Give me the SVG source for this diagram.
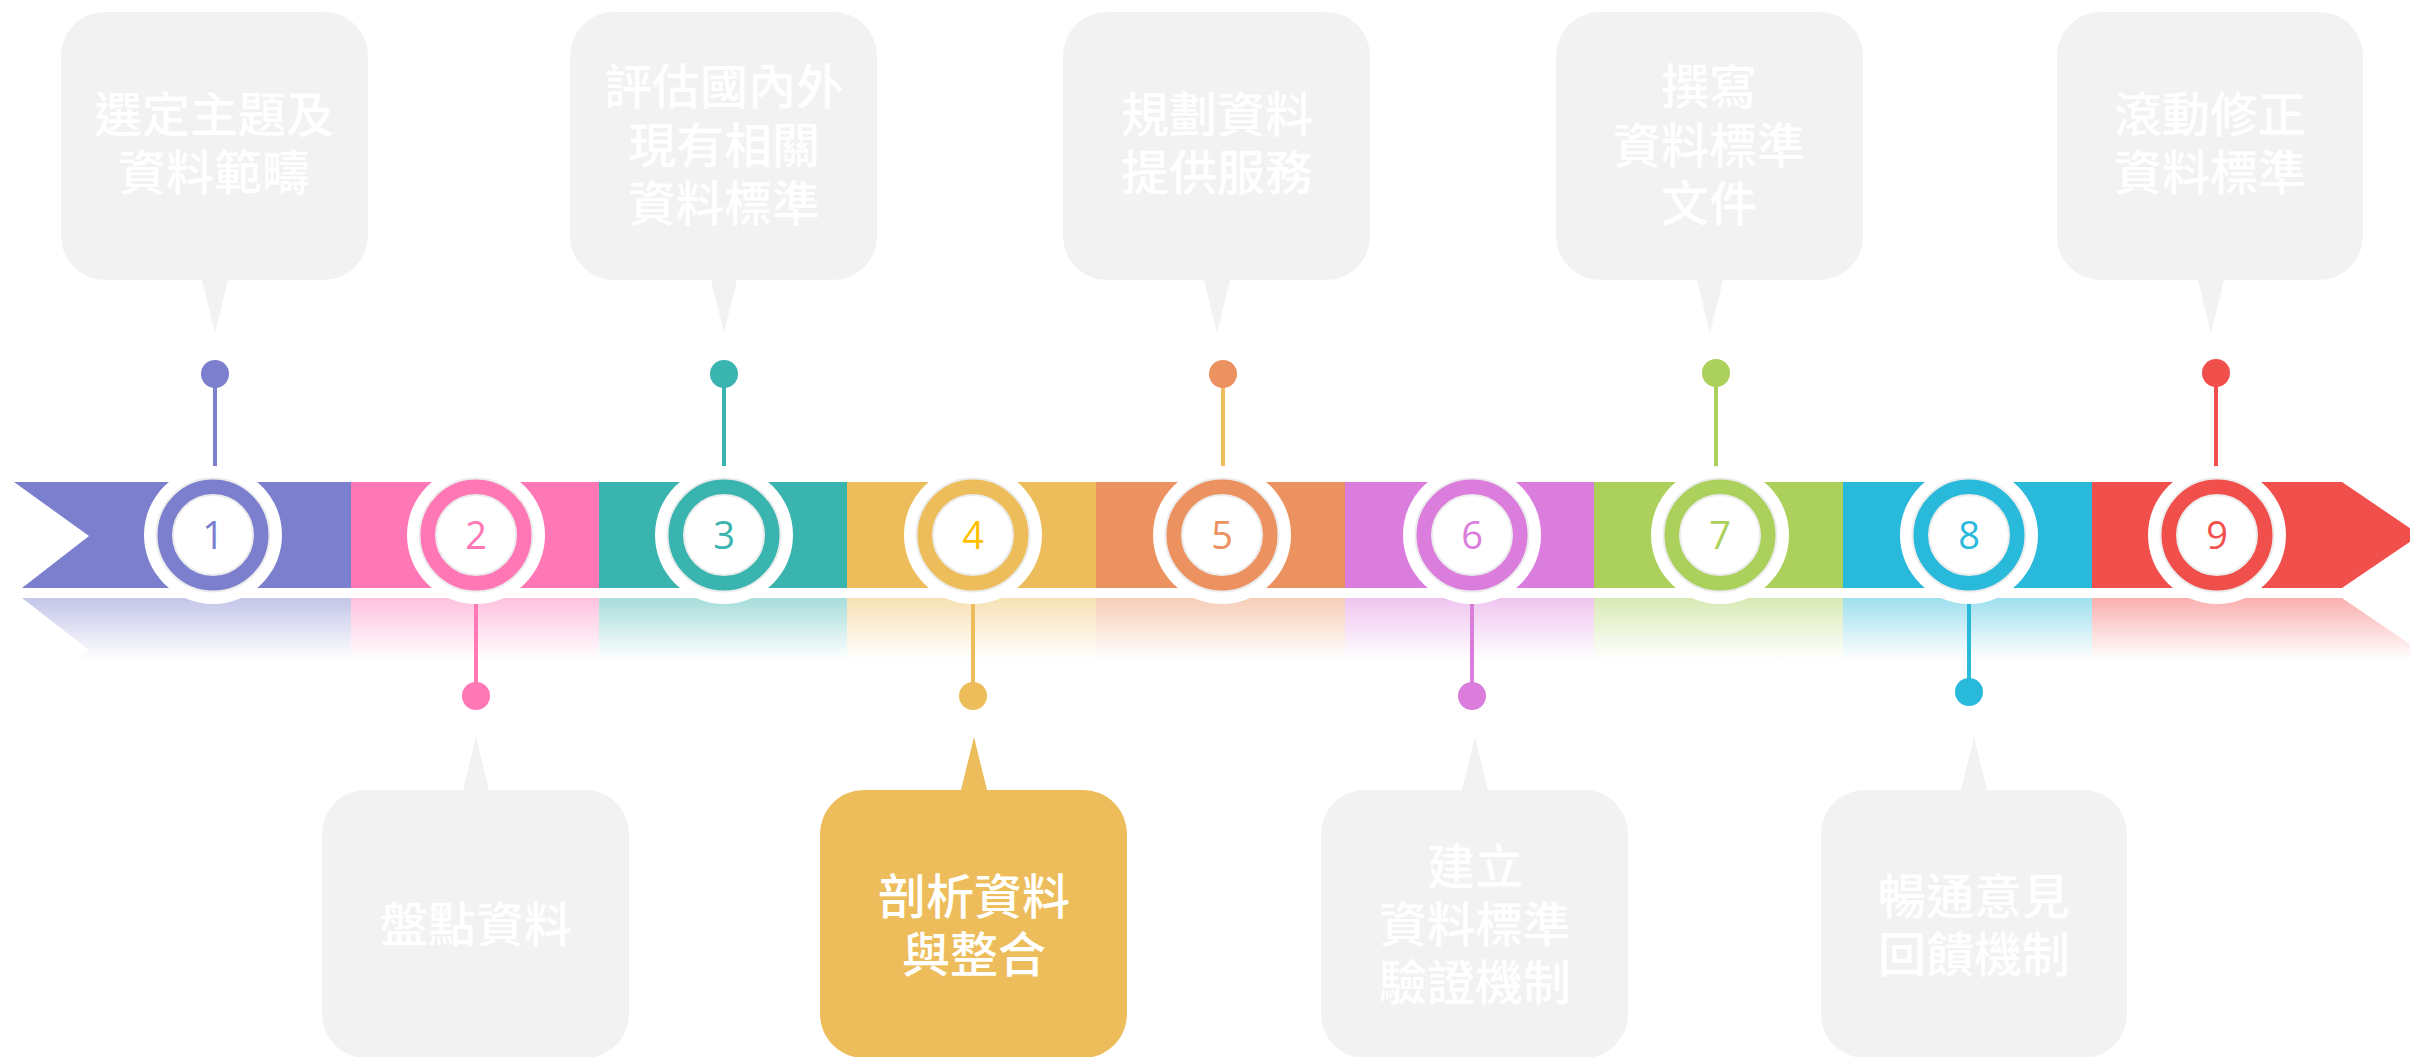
<svg xmlns="http://www.w3.org/2000/svg" width="2410" height="1057" viewBox="0 0 2410 1057">
<defs>
<style>
.box{fill:#F2F2F2}
.box-on{fill:#ECBD5A}
.lbl{font-family:"Noto Sans CJK TC","Noto Sans CJK SC",sans-serif;font-size:48px;font-weight:500;fill:#FFFFFF;text-anchor:middle}
.num{font-family:"Open Sans","Noto Sans",sans-serif;font-size:38px;text-anchor:middle}
.ringw{fill:#FFFFFF}
.ring{stroke:#ECECEC;stroke-width:2}
.inner{fill:#FFFFFF;stroke:#ECECEC;stroke-width:2}
.stem{stroke-width:4;fill:none}
</style>
<linearGradient id="fade" x1="0" y1="598" x2="0" y2="660" gradientUnits="userSpaceOnUse">
<stop offset="0" stop-color="#fff" stop-opacity="0.45"/>
<stop offset="1" stop-color="#fff" stop-opacity="0"/>
</linearGradient>
<mask id="refmask" maskUnits="userSpaceOnUse" x="0" y="590" width="2410" height="120">
<rect x="0" y="590" width="2410" height="120" fill="url(#fade)"/>
</mask>
</defs>
<rect width="2410" height="1057" fill="#FFFFFF"/>

<g id="timeline">
<polygon points="14,482 352,482 352,588 22,588 89,536" fill="#7B7FCD"/>
<rect x="351" y="482" width="249" height="106" fill="#FF77B5"/>
<rect x="599" y="482" width="249" height="106" fill="#3AB4AE"/>
<rect x="847" y="482" width="250" height="106" fill="#ECBD5A"/>
<rect x="1096" y="482" width="250" height="106" fill="#EC9160"/>
<rect x="1345" y="482" width="250" height="106" fill="#DB7DDC"/>
<rect x="1594" y="482" width="250" height="106" fill="#ABD05B"/>
<rect x="1843" y="482" width="250" height="106" fill="#29B9DB"/>
<polygon points="2092,482 2342,482 2420,535 2342,588 2092,588" fill="#F14F4C"/>
</g>

<g id="reflection" mask="url(#refmask)">
<polygon points="22,598 352,598 352,704 14,704 89,650" fill="#7B7FCD"/>
<rect x="351" y="598" width="249" height="106" fill="#FF77B5"/>
<rect x="599" y="598" width="249" height="106" fill="#3AB4AE"/>
<rect x="847" y="598" width="250" height="106" fill="#ECBD5A"/>
<rect x="1096" y="598" width="250" height="106" fill="#EC9160"/>
<rect x="1345" y="598" width="250" height="106" fill="#DB7DDC"/>
<rect x="1594" y="598" width="250" height="106" fill="#ABD05B"/>
<rect x="1843" y="598" width="250" height="106" fill="#29B9DB"/>
<polygon points="2092,598 2342,598 2420,651 2342,704 2092,704" fill="#F14F4C"/>
</g>

<g id="connectors">
<line class="stem" x1="215" y1="374" x2="215" y2="479" stroke="#7B7FCD"/>
<circle cx="215" cy="374" r="14" fill="#7B7FCD"/>
<line class="stem" x1="476" y1="591" x2="476" y2="696" stroke="#FF77B5"/>
<circle cx="476" cy="696" r="14" fill="#FF77B5"/>
<line class="stem" x1="724" y1="374" x2="724" y2="479" stroke="#3AB4AE"/>
<circle cx="724" cy="374" r="14" fill="#3AB4AE"/>
<line class="stem" x1="973" y1="591" x2="973" y2="696" stroke="#ECBD5A"/>
<circle cx="973" cy="696" r="14" fill="#ECBD5A"/>
<line class="stem" x1="1223" y1="374" x2="1223" y2="479" stroke="#ECBD5A"/>
<circle cx="1223" cy="374" r="14" fill="#EC9160"/>
<line class="stem" x1="1472" y1="591" x2="1472" y2="696" stroke="#DB7DDC"/>
<circle cx="1472" cy="696" r="14" fill="#DB7DDC"/>
<line class="stem" x1="1716" y1="373" x2="1716" y2="479" stroke="#ABD05B"/>
<circle cx="1716" cy="373" r="14" fill="#ABD05B"/>
<line class="stem" x1="1969" y1="591" x2="1969" y2="692" stroke="#29B9DB"/>
<circle cx="1969" cy="692" r="14" fill="#29B9DB"/>
<line class="stem" x1="2216" y1="373" x2="2216" y2="479" stroke="#F14F4C"/>
<circle cx="2216" cy="373" r="14" fill="#F14F4C"/>
</g>

<g id="marker-1"><circle class="ringw" cx="213" cy="535" r="69"/><circle class="ring" cx="213" cy="535" r="56.5" fill="#7B7FCD"/><circle class="inner" cx="213" cy="535" r="40"/><text class="num" x="213" y="549" fill="#7B7FCD">1</text></g>
<g id="marker-2"><circle class="ringw" cx="476" cy="535" r="69"/><circle class="ring" cx="476" cy="535" r="56.5" fill="#FF77B5"/><circle class="inner" cx="476" cy="535" r="40"/><text class="num" x="476" y="549" fill="#FF77B5">2</text></g>
<g id="marker-3"><circle class="ringw" cx="724" cy="535" r="69"/><circle class="ring" cx="724" cy="535" r="56.5" fill="#3AB4AE"/><circle class="inner" cx="724" cy="535" r="40"/><text class="num" x="724" y="549" fill="#3AB4AE">3</text></g>
<g id="marker-4"><circle class="ringw" cx="973" cy="535" r="69"/><circle class="ring" cx="973" cy="535" r="56.5" fill="#ECBD5A"/><circle class="inner" cx="973" cy="535" r="40"/><text class="num" x="973" y="549" fill="#FFC000">4</text></g>
<g id="marker-5"><circle class="ringw" cx="1222" cy="535" r="69"/><circle class="ring" cx="1222" cy="535" r="56.5" fill="#EC9160"/><circle class="inner" cx="1222" cy="535" r="40"/><text class="num" x="1222" y="549" fill="#EC9160">5</text></g>
<g id="marker-6"><circle class="ringw" cx="1472" cy="535" r="69"/><circle class="ring" cx="1472" cy="535" r="56.5" fill="#DB7DDC"/><circle class="inner" cx="1472" cy="535" r="40"/><text class="num" x="1472" y="549" fill="#DB7DDC">6</text></g>
<g id="marker-7"><circle class="ringw" cx="1720" cy="535" r="69"/><circle class="ring" cx="1720" cy="535" r="56.5" fill="#ABD05B"/><circle class="inner" cx="1720" cy="535" r="40"/><text class="num" x="1720" y="549" fill="#ABD05B">7</text></g>
<g id="marker-8"><circle class="ringw" cx="1969" cy="535" r="69"/><circle class="ring" cx="1969" cy="535" r="56.5" fill="#29B9DB"/><circle class="inner" cx="1969" cy="535" r="40"/><text class="num" x="1969" y="549" fill="#29B9DB">8</text></g>
<g id="marker-9"><circle class="ringw" cx="2217" cy="535" r="69"/><circle class="ring" cx="2217" cy="535" r="56.5" fill="#F14F4C"/><circle class="inner" cx="2217" cy="535" r="40"/><text class="num" x="2217" y="549" fill="#F14F4C">9</text></g>

<g id="step-1">
<path class="box" d="M105,12 H324 A44,44 0 0 1 368,56 V236 A44,44 0 0 1 324,280 H228 L215,333 L202,280 H105 A44,44 0 0 1 61,236 V56 A44,44 0 0 1 105,12 Z"/>
<text class="lbl" x="214" y="132">選定主題及</text>
<text class="lbl" x="214" y="190">資料範疇</text>
</g>
<g id="step-3">
<path class="box" d="M614,12 H833 A44,44 0 0 1 877,56 V236 A44,44 0 0 1 833,280 H737 L724,333 L711,280 H614 A44,44 0 0 1 570,236 V56 A44,44 0 0 1 614,12 Z"/>
<text class="lbl" x="724" y="104">評估國內外</text>
<text class="lbl" x="724" y="163">現有相關</text>
<text class="lbl" x="724" y="221">資料標準</text>
</g>
<g id="step-5">
<path class="box" d="M1107,12 H1326 A44,44 0 0 1 1370,56 V236 A44,44 0 0 1 1326,280 H1230 L1217,333 L1204,280 H1107 A44,44 0 0 1 1063,236 V56 A44,44 0 0 1 1107,12 Z"/>
<text class="lbl" x="1217" y="132">規劃資料</text>
<text class="lbl" x="1217" y="190">提供服務</text>
</g>
<g id="step-7">
<path class="box" d="M1600,12 H1819 A44,44 0 0 1 1863,56 V236 A44,44 0 0 1 1819,280 H1723 L1710,333 L1697,280 H1600 A44,44 0 0 1 1556,236 V56 A44,44 0 0 1 1600,12 Z"/>
<text class="lbl" x="1709" y="104">撰寫</text>
<text class="lbl" x="1709" y="163">資料標準</text>
<text class="lbl" x="1709" y="221">文件</text>
</g>
<g id="step-9">
<path class="box" d="M2101,12 H2319 A44,44 0 0 1 2363,56 V236 A44,44 0 0 1 2319,280 H2224 L2211,333 L2198,280 H2101 A44,44 0 0 1 2057,236 V56 A44,44 0 0 1 2101,12 Z"/>
<text class="lbl" x="2210" y="132">滾動修正</text>
<text class="lbl" x="2210" y="190">資料標準</text>
</g>

<g id="step-2">
<path class="box" d="M366,790 H463 L476,737 L489,790 H585 A44,44 0 0 1 629,834 V1014 A44,44 0 0 1 585,1058 H366 A44,44 0 0 1 322,1014 V834 A44,44 0 0 1 366,790 Z"/>
<text class="lbl" x="476" y="942">盤點資料</text>
</g>
<g id="step-4">
<path class="box-on" d="M864,790 H961 L974,737 L987,790 H1083 A44,44 0 0 1 1127,834 V1014 A44,44 0 0 1 1083,1058 H864 A44,44 0 0 1 820,1014 V834 A44,44 0 0 1 864,790 Z"/>
<text class="lbl" x="974" y="914">剖析資料</text>
<text class="lbl" x="974" y="972">與整合</text>
</g>
<g id="step-6">
<path class="box" d="M1365,790 H1462 L1475,737 L1488,790 H1584 A44,44 0 0 1 1628,834 V1014 A44,44 0 0 1 1584,1058 H1365 A44,44 0 0 1 1321,1014 V834 A44,44 0 0 1 1365,790 Z"/>
<text class="lbl" x="1475" y="884">建立</text>
<text class="lbl" x="1475" y="942">資料標準</text>
<text class="lbl" x="1475" y="1000">驗證機制</text>
</g>
<g id="step-8">
<path class="box" d="M1865,790 H1961 L1974,737 L1987,790 H2083 A44,44 0 0 1 2127,834 V1014 A44,44 0 0 1 2083,1058 H1865 A44,44 0 0 1 1821,1014 V834 A44,44 0 0 1 1865,790 Z"/>
<text class="lbl" x="1974" y="914">暢通意見</text>
<text class="lbl" x="1974" y="972">回饋機制</text>
</g>
</svg>
